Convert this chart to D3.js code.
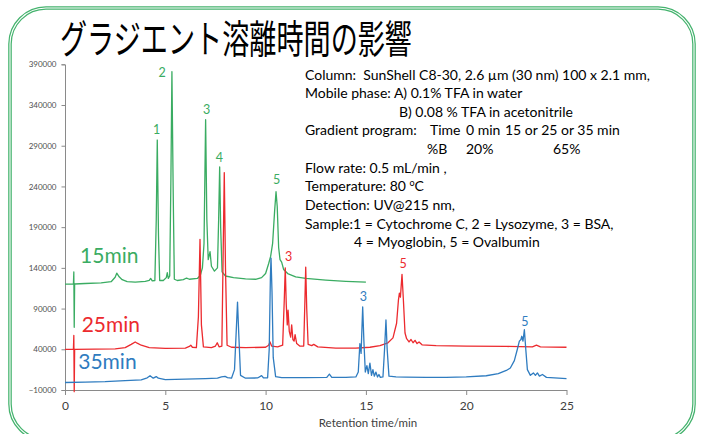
<!DOCTYPE html>
<html>
<head>
<meta charset="utf-8">
<script src="https://cdn.jsdelivr.net/npm/d3@7"></script>
<style>
  html, body { margin: 0; padding: 0; background: #fff; }
  svg { display: block; }
  text { font-family: Lato, "Open Sans", sans-serif; }
</style>
</head>
<body>
<svg id="chart" width="701" height="434"></svg>
<script>
// Chromatograms: [retention time (min), signal]
const run15 = [
  [0,120000],[0.42,120200],[0.44,135000],[0.46,67000],[0.48,120200],[1.0,120800],[1.8,121500],
  [2.3,123000],[2.5,128500],[2.58,133500],[2.7,129000],[2.85,125500],[3.1,123000],[3.5,122500],
  [4.0,123500],[4.2,124500],[4.27,127000],[4.35,124000],[4.48,124500],[4.55,200000],[4.6,297000],
  [4.66,180000],[4.72,124500],[4.9,124500],[5.05,128000],[5.1,134000],[5.15,127000],[5.22,130000],
  [5.28,250000],[5.33,381000],[5.39,240000],[5.45,126000],[5.6,124500],[5.9,125500],[6.06,127500],
  [6.2,126000],[6.6,127000],[6.75,131000],[6.85,140000],[6.93,170000],[7.01,322000],[7.07,200000],
  [7.14,150000],[7.23,160000],[7.3,142000],[7.45,136000],[7.6,140000],[7.66,200000],[7.71,264000],
  [7.76,190000],[7.83,135000],[8.0,130000],[8.4,128000],[9.0,126500],[9.5,126000],[9.8,128000],
  [10.0,133000],[10.15,145000],[10.25,154000],[10.35,170000],[10.45,210000],[10.52,233500],
  [10.58,215000],[10.65,165000],[10.72,150000],[10.8,147000],[10.9,138000],[11.1,133000],
  [11.5,129000],[12,127000],[13,125000],[14,123500],[15,122500]
];
const run25 = [
  [0,40000],[0.42,40000],[0.44,57000],[0.46,-12000],[0.48,40000],[1.5,40200],[2.5,40500],
  [3.0,42000],[3.3,46000],[3.5,49000],[3.6,47500],[3.8,45000],[4.2,42000],[5.0,41000],[6.0,41500],
  [6.2,43500],[6.27,45000],[6.35,42500],[6.55,42000],[6.65,80000],[6.73,175000],[6.8,70000],
  [6.9,43000],[7.3,42000],[7.5,44000],[7.59,48000],[7.68,43000],[7.82,44000],[7.88,150000],
  [7.94,257000],[8.0,140000],[8.08,45000],[8.3,42500],[9,42000],[10,42500],[10.15,45000],
  [10.22,49000],[10.3,44000],[10.6,43000],[10.85,45000],[10.93,100000],[10.98,140000],
  [11.03,95000],[11.08,70000],[11.12,88000],[11.18,62000],[11.25,55000],[11.3,70000],
  [11.36,52000],[11.42,50000],[11.47,58000],[11.55,47000],[11.7,44000],[11.9,44000],
  [11.96,100000],[12.0,141000],[12.05,90000],[12.12,46000],[12.3,44500],[12.4,46000],
  [12.6,43000],[13.5,41500],[14.5,41500],[15.2,42500],[15.7,44500],[16.1,48000],[16.35,54000],
  [16.53,72000],[16.62,100000],[16.67,109000],[16.72,104000],[16.8,132000],[16.87,100000],
  [16.95,60000],[17.03,53000],[17.15,49000],[17.25,52000],[17.35,48000],[17.45,51000],
  [17.55,47000],[17.65,49000],[17.8,45500],[18.5,44500],[20,44000],[22,43500],[23.3,43000],
  [23.5,45000],[23.7,43000],[25,42500]
];
const run35 = [
  [0,-800],[1,-300],[2,300],[3,1500],[3.8,2500],[4.1,5000],[4.24,7600],[4.4,4500],[4.55,6500],
  [4.65,4500],[5,2800],[6,3300],[7,4000],[7.6,4500],[7.8,6000],[7.98,6700],[8.1,5200],[8.3,4500],
  [8.45,15000],[8.55,70000],[8.6,98000],[8.66,60000],[8.75,8000],[9.0,4500],[9.6,4800],
  [9.8,7600],[9.9,4800],[10.1,5000],[10.18,40000],[10.24,130000],[10.27,152000],[10.32,110000],
  [10.38,30000],[10.5,6500],[10.8,5200],[12,5300],[13.05,5500],[13.18,9500],[13.3,5500],
  [14,5500],[14.5,6000],[14.62,12000],[14.7,47000],[14.76,35000],[14.84,92000],[14.9,50000],
  [14.97,12000],[15.05,20000],[15.12,10000],[15.2,23000],[15.28,8000],[15.35,15000],
  [15.42,7000],[15.5,12000],[15.58,6000],[15.65,9000],[15.72,5500],[15.85,6000],[15.93,40000],
  [16.0,76000],[16.06,40000],[16.15,7000],[16.5,6000],[17,5800],[18,5500],[19,5500],[20,6000],
  [21,7500],[21.6,10000],[22.0,14000],[22.2,17000],[22.4,26000],[22.55,40000],[22.65,50000],
  [22.73,52000],[22.77,56000],[22.83,50000],[22.9,64000],[22.97,40000],[23.05,15000],
  [23.2,8000],[23.35,11000],[23.45,8000],[23.55,11000],[23.65,7000],[23.8,9000],[24,5500],
  [25,4000]
];

const runNames = ["15min", "25min", "35min"];
const runColors = ["#3aac62", "#ec2a2e", "#2f7cc0"];
// where each run name sits: [time, signal]
const runNameAt = [[0.75, 146000], [0.83, 61300], [0.66, 15800]];

// Peak numbers: [run index, label, time, signal at label baseline]
const peakLabels = [
  [0,"1",4.57,304000],[0,"2",4.84,374000],[0,"3",7.06,329000],[0,"4",7.69,270500],[0,"5",10.55,243000],
  [1,"3",11.15,148000],[1,"5",16.86,140000],
  [2,"3",14.87,99300],[2,"5",22.93,68600]
];

const xTicks = [0, 5, 10, 15, 20, 25];
const yTicks = [-10000, 40000, 90000, 140000, 190000, 240000, 290000, 340000, 390000];

// conditions block: each piece is [text, x offset, line]
const conditions = [
  ["Column:  SunShell C8-30, 2.6 µm (30 nm) 100 x 2.1 mm,", 0, 0],
  ["Mobile phase: A) 0.1% TFA in water", 0, 1],
  ["B) 0.08 % TFA in acetonitrile", 94, 2],
  ["Gradient program:", 0, 3],
  ["Time", 125, 3],
  ["0 min", 161, 3],
  ["15 or 25 or 35 min", 200, 3],
  ["%B", 122, 4],
  ["20%", 161, 4],
  ["65%", 248, 4],
  ["Flow rate: 0.5 mL/min ,", 0, 5],
  ["Detection: UV@215 nm,", 0, 7],
  ["Sample:1 = Cytochrome C, 2 = Lysozyme, 3 = BSA,", 0, 8],
  ["4 = Myoglobin, 5 = Ovalbumin", 49, 9]
];

const svg = d3.select("#chart");

// frame: double green rounded border
svg.append("rect").attr("x", 10).attr("y", 8).attr("width", 684).attr("height", 432)
  .attr("rx", 36).attr("fill", "none").attr("stroke", "#45b36e").attr("stroke-width", 3.6);
svg.append("rect").attr("x", 10).attr("y", 8).attr("width", 684).attr("height", 432)
  .attr("rx", 36).attr("fill", "none").attr("stroke", "#ffffff").attr("stroke-width", 1.1);

// title
svg.append("text").attr("x", 60).attr("y", 53)
  .attr("textLength", 352).attr("lengthAdjust", "spacingAndGlyphs")
  .style("font-family", "'Noto Sans CJK JP', sans-serif").style("font-size", "39px")
  .attr("fill", "#000").text("グラジエント溶離時間の影響");

const x = d3.scaleLinear().domain([0, 25]).range([65, 566.5]);
const y = d3.scaleLinear().domain([-10000, 390000]).range([390, 64.3]);

// axes
const yAxis = svg.append("g").attr("transform", `translate(${x(0)},0)`)
  .call(d3.axisLeft(y).tickValues(yTicks).tickSize(3.5).tickPadding(5).tickFormat(d3.format("d")));
yAxis.select(".domain").attr("stroke", "#8a8a8a");
yAxis.selectAll(".tick line").attr("stroke", "#8a8a8a");
yAxis.selectAll(".tick text").attr("fill", "#505050").style("font-size", "8px")
  .style("font-family", "Lato, sans-serif");

const xAxis = svg.append("g").attr("transform", `translate(0,${y(-10000)})`)
  .call(d3.axisBottom(x).tickValues(xTicks).tickSize(5).tickPadding(6).tickSizeOuter(0));
xAxis.select(".domain").attr("stroke", "#8a8a8a");
xAxis.selectAll(".tick line").attr("stroke", "#8a8a8a");
xAxis.selectAll(".tick text").attr("fill", "#404040").style("font-size", "12px")
  .style("font-family", "Lato, sans-serif");

svg.append("text").attr("x", 368).attr("y", 427).attr("text-anchor", "middle")
  .attr("fill", "#404040").style("font-size", "11.5px").text("Retention time/min");

// traces
const line = d3.line().x(d => x(d[0])).y(d => y(d[1]));
[run15, run25, run35].forEach((run, i) => {
  svg.append("path").datum(run).attr("d", line).attr("fill", "none")
    .attr("stroke", runColors[i]).attr("stroke-width", 1.3).attr("stroke-linejoin", "round");
});

// run names
runNames.forEach((name, i) => {
  svg.append("text").attr("x", x(runNameAt[i][0])).attr("y", y(runNameAt[i][1]))
    .attr("fill", runColors[i]).style("font-size", "21px").text(name);
});

// peak numbers
svg.selectAll("text.peak").data(peakLabels).enter().append("text").attr("class", "peak")
  .attr("x", d => x(d[2])).attr("y", d => y(d[3])).attr("text-anchor", "middle")
  .attr("fill", d => runColors[d[0]]).style("font-size", "12.5px").text(d => d[1]);

// conditions block
const tx = 305, ty0 = 79.5, lh = 18.65;
conditions.forEach(c => {
  svg.append("text").attr("x", tx + c[1]).attr("y", ty0 + c[2] * lh)
    .attr("fill", "#000").style("font-size", "14px")
    .attr("xml:space", "preserve").text(c[0]);
});
const temp = svg.append("text").attr("x", tx).attr("y", ty0 + 6 * lh)
  .attr("fill", "#000").style("font-size", "14px").attr("xml:space", "preserve");
temp.append("tspan").text("Temperature: 80 ");
temp.append("tspan").attr("dy", -5).style("font-size", "9px").text("o");
temp.append("tspan").attr("dy", 5).text("C");
</script>
</body>
</html>
